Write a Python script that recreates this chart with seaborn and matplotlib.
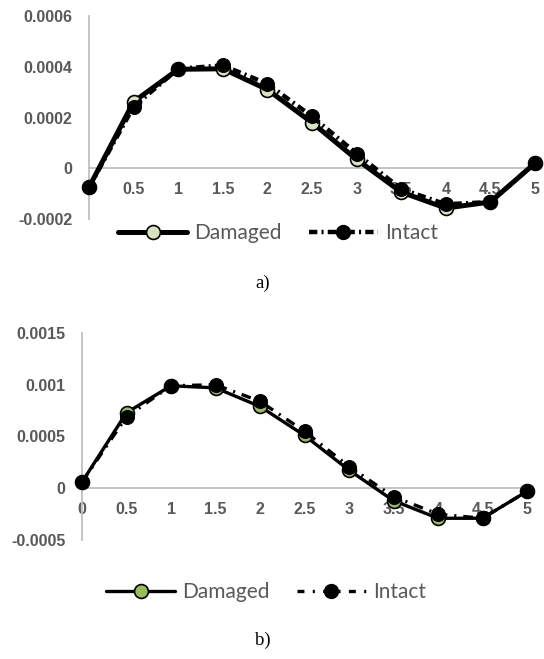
import matplotlib
matplotlib.use("Agg")
import matplotlib.pyplot as plt
import seaborn as sns
import numpy as np
from matplotlib.lines import Line2D

sns.set_theme(style="white")
plt.rcParams["lines.scale_dashes"] = False
plt.rcParams["font.family"] = ["Liberation Sans", "DejaVu Sans"]

x_vals = [0, 0.5, 1, 1.5, 2, 2.5, 3, 3.5, 4, 4.5, 5]

a_damaged = [-0.000075, 0.000262, 0.000390, 0.000392, 0.000310, 0.000180, 0.000035, -0.000094, -0.000157, -0.000133, 0.000020]
a_intact = [-0.000075, 0.000243, 0.000392, 0.000405, 0.000333, 0.000204, 0.000058, -0.000082, -0.000142, -0.000133, 0.000020]

b_damaged = [0.00006, 0.00073, 0.00099, 0.00097, 0.00079, 0.00051, 0.000175, -0.00012, -0.00029, -0.00029, -0.00003]
b_intact = [0.00006, 0.00069, 0.00099, 0.00100, 0.00084, 0.00055, 0.00021, -0.00008, -0.00025, -0.00029, -0.00003]

a_yticks = [-0.0002, 0, 0.0002, 0.0004, 0.0006]
a_yticklabels = ["-0.0002", "0", "0.0002", "0.0004", "0.0006"]
b_yticks = [-0.0005, 0, 0.0005, 0.001, 0.0015]
b_yticklabels = ["-0.0005", "0", "0.0005", "0.001", "0.0015"]
x_ticks = [0, 0.5, 1, 1.5, 2, 2.5, 3, 3.5, 4, 4.5, 5]
x_ticklabels = ["0", "0.5", "1", "1.5", "2", "2.5", "3", "3.5", "4", "4.5", "5"]
series_names = ["Damaged", "Intact"]
captions = ["a)", "b)"]

W, H = 544, 659
fig = plt.figure(figsize=(W / 100, H / 100), dpi=100)

TICK_COLOR = "#595959"
AXIS_COLOR = "#bfbfbf"


def make_axes(px_left, px_right, px_top, px_bottom):
    return fig.add_axes([px_left / W, 1 - px_bottom / H,
                         (px_right - px_left) / W, (px_bottom - px_top) / H])


def style_axes(ax, ylim, yticks, yticklabels):
    ax.set_xlim(0, 5)
    ax.set_ylim(*ylim)
    ax.set_xticks(x_ticks)
    ax.set_xticklabels(x_ticklabels)
    ax.set_yticks(yticks)
    ax.set_yticklabels(yticklabels)
    ax.spines["top"].set_visible(False)
    ax.spines["right"].set_visible(False)
    ax.spines["bottom"].set_position(("data", 0))
    for s in ("left", "bottom"):
        ax.spines[s].set_color(AXIS_COLOR)
        ax.spines[s].set_linewidth(1.3)
    ax.tick_params(axis="both", length=0, colors=TICK_COLOR, labelsize=11.5)
    ax.tick_params(axis="x", pad=10)
    ax.tick_params(axis="y", pad=12)
    for lab in ax.get_xticklabels() + ax.get_yticklabels():
        lab.set_fontweight("bold")
        lab.set_fontfamily("Liberation Sans")
    ax.set_xlabel("")
    ax.set_ylabel("")
    ax.grid(False)
    ax.set_facecolor("none")


def add_legend(handles, center_x, center_y):
    leg = fig.legend(handles, series_names, loc="center",
                     bbox_to_anchor=(center_x / W, 1 - center_y / H),
                     ncol=2, frameon=False, handlelength=3.3, columnspacing=1.3,
                     handletextpad=0.35, prop={"family": "Lato", "size": 15})
    for t in leg.get_texts():
        t.set_color(TICK_COLOR)
    return leg


# ---------- panel a ----------
ax1 = make_axes(89, 535, 16, 219)
dash_a = (0, (6, 3, 1.5, 3))
sns.lineplot(x=x_vals, y=a_damaged, ax=ax1, color="black", linewidth=3.6,
             marker="o", markersize=10, markerfacecolor="#d7e4bd",
             markeredgecolor="black", markeredgewidth=1.2, clip_on=False, zorder=3)
sns.lineplot(x=x_vals, y=a_intact, ax=ax1, color="black", linewidth=3.2,
             linestyle=dash_a, marker="o", markersize=10,
             markerfacecolor="black", markeredgecolor="black", clip_on=False, zorder=4)
style_axes(ax1, (-0.0002, 0.0006), a_yticks, a_yticklabels)

h_a = [Line2D([], [], color="black", lw=3.6, marker="o", markersize=10,
              markerfacecolor="#d7e4bd", markeredgecolor="black", markeredgewidth=1.2),
       Line2D([], [], color="black", lw=3.2, linestyle=dash_a, marker="o", markersize=10,
              markerfacecolor="black", markeredgecolor="black")]
add_legend(h_a, 278, 233)

fig.text(263 / W, 1 - 283 / H, captions[0], ha="center", va="center",
         fontfamily="Liberation Serif", fontsize=13.5, color="black")

# ---------- panel b ----------
ax2 = make_axes(82, 527, 333, 540)
dash_b = (0, (7, 5, 1.5, 5))
sns.lineplot(x=x_vals, y=b_damaged, ax=ax2, color="black", linewidth=2.4,
             marker="o", markersize=10, markerfacecolor="#9bbb59",
             markeredgecolor="black", markeredgewidth=1.2, clip_on=False, zorder=3)
sns.lineplot(x=x_vals, y=b_intact, ax=ax2, color="black", linewidth=2.4,
             linestyle=dash_b, marker="o", markersize=10,
             markerfacecolor="black", markeredgecolor="black", clip_on=False, zorder=4)
style_axes(ax2, (-0.0005, 0.0015), b_yticks, b_yticklabels)

h_b = [Line2D([], [], color="black", lw=2.4, marker="o", markersize=10,
              markerfacecolor="#9bbb59", markeredgecolor="black", markeredgewidth=1.2),
       Line2D([], [], color="black", lw=2.4, linestyle=(0, (5, 6, 1.5, 6)), marker="o",
              markersize=10, markerfacecolor="black", markeredgecolor="black")]
add_legend(h_b, 266, 592)

fig.text(263 / W, 1 - 640 / H, captions[1], ha="center", va="center",
         fontfamily="Liberation Serif", fontsize=13.5, color="black")

fig.savefig("out.png", dpi=100, facecolor="white")
